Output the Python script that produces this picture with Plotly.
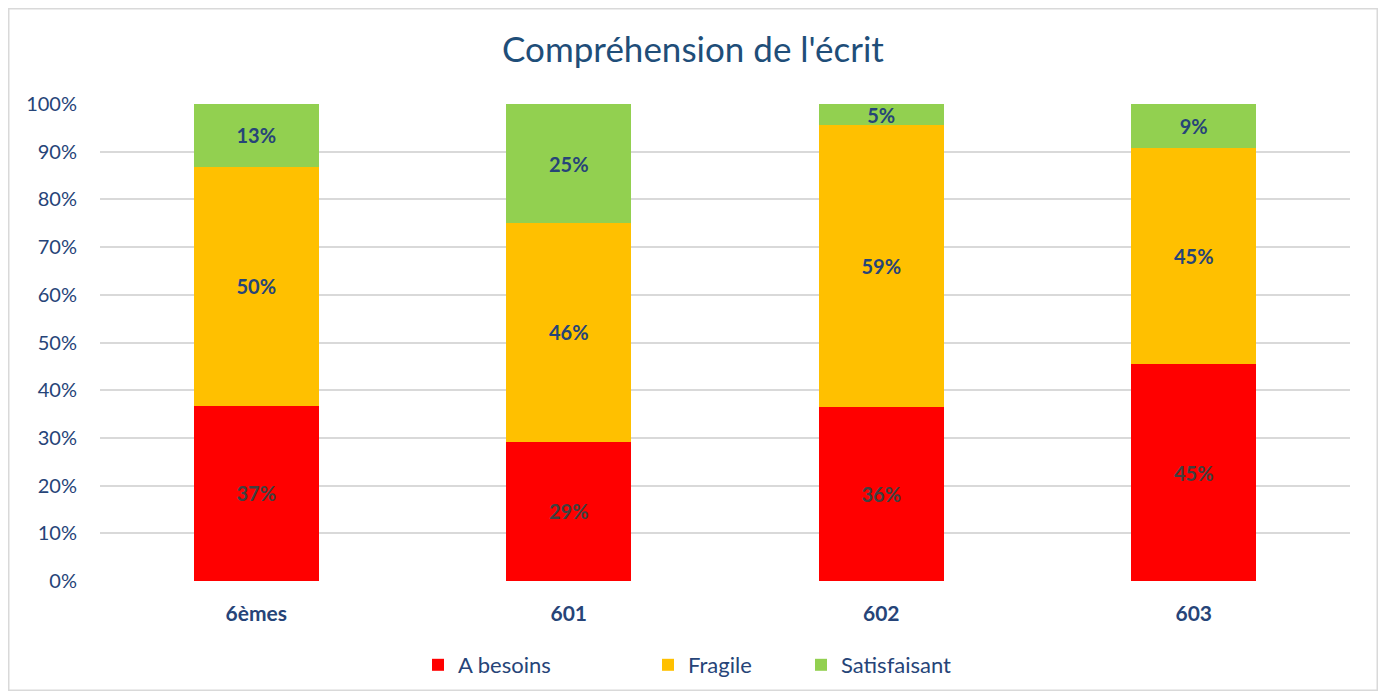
import plotly.graph_objects as go

categories = ["6èmes", "601", "602", "603"]
a_besoins = [36.7, 29.2, 36.4, 45.4]
fragile = [50.1, 45.8, 59.1, 45.4]
satisfaisant = [13.2, 25.0, 4.55, 9.2]
tick_vals = [0, 10, 20, 30, 40, 50, 60, 70, 80, 90, 100]
tick_text = [f"{v}%" for v in tick_vals]

W, H = 1370, 683
L, R, T, B = 92, 28, 96, 110
FONT = "Lato"
BLUE = "#264478"
pw, ph = W - L - R, H - T - B

def px_x(x):
    return (x - L) / pw

def px_y(y):
    return (H - B - y) / ph

series = [
    ("A besoins", a_besoins, "#FF0000", "#404040", "legend", 427),
    ("Fragile", fragile, "#FFC000", BLUE, "legend2", 657),
    ("Satisfaisant", satisfaisant, "#92D050", BLUE, "legend3", 810),
]

fig = go.Figure()
legends = {}
for name, vals, color, tcolor, leg, lx in series:
    fig.add_trace(go.Bar(
        name=name, x=categories, y=vals,
        marker=dict(color=color, line=dict(width=0)),
        texttemplate="%{y:.0f}%", textposition="inside",
        insidetextanchor="middle", constraintext="none",
        textfont=dict(family=FONT, size=20, color=tcolor, weight="bold"),
        width=0.4, hoverinfo="skip", legend=leg,
    ))
    legends[leg] = dict(orientation="h", xref="container", x=(lx - 17) / W, xanchor="left",
                        yref="container", y=1 - 657 / H, yanchor="middle",
                        bgcolor="rgba(0,0,0,0)",
                        font=dict(family=FONT, size=22, color=BLUE))

fig.add_shape(type="rect", xref="paper", yref="paper",
              x0=px_x(0.75), x1=px_x(W - 0.75),
              y0=px_y(H - 0.75), y1=px_y(0.75),
              line=dict(color="#D9D9D9", width=1.5), fillcolor="rgba(0,0,0,0)", layer="below")

fig.update_layout(
    width=W, height=H,
    margin=dict(l=L, r=R, t=T, b=B, pad=0, autoexpand=False),
    barmode="stack",
    paper_bgcolor="white", plot_bgcolor="white",
    title=dict(text="Compréhension de l'écrit", x=0.5, xanchor="center",
               y=1 - 42 / H, yanchor="middle",
               font=dict(family=FONT, size=35, color="#1F4E79")),
    font=dict(family=FONT, color=BLUE),
    showlegend=True,
    xaxis=dict(showgrid=False, showline=False, zeroline=False, ticks="",
               tickfont=dict(family=FONT, size=21, color=BLUE, weight="bold"),
               ticklabelstandoff=18),
    yaxis=dict(range=[0, 100], tickvals=tick_vals, ticktext=tick_text,
               showgrid=True, gridcolor="#D9D9D9", gridwidth=1.5,
               zeroline=False, showline=False, ticks="",
               tickfont=dict(family=FONT, size=20, color=BLUE),
               ticklabelstandoff=22),
    **legends,
)

fig.write_html("out.html")
